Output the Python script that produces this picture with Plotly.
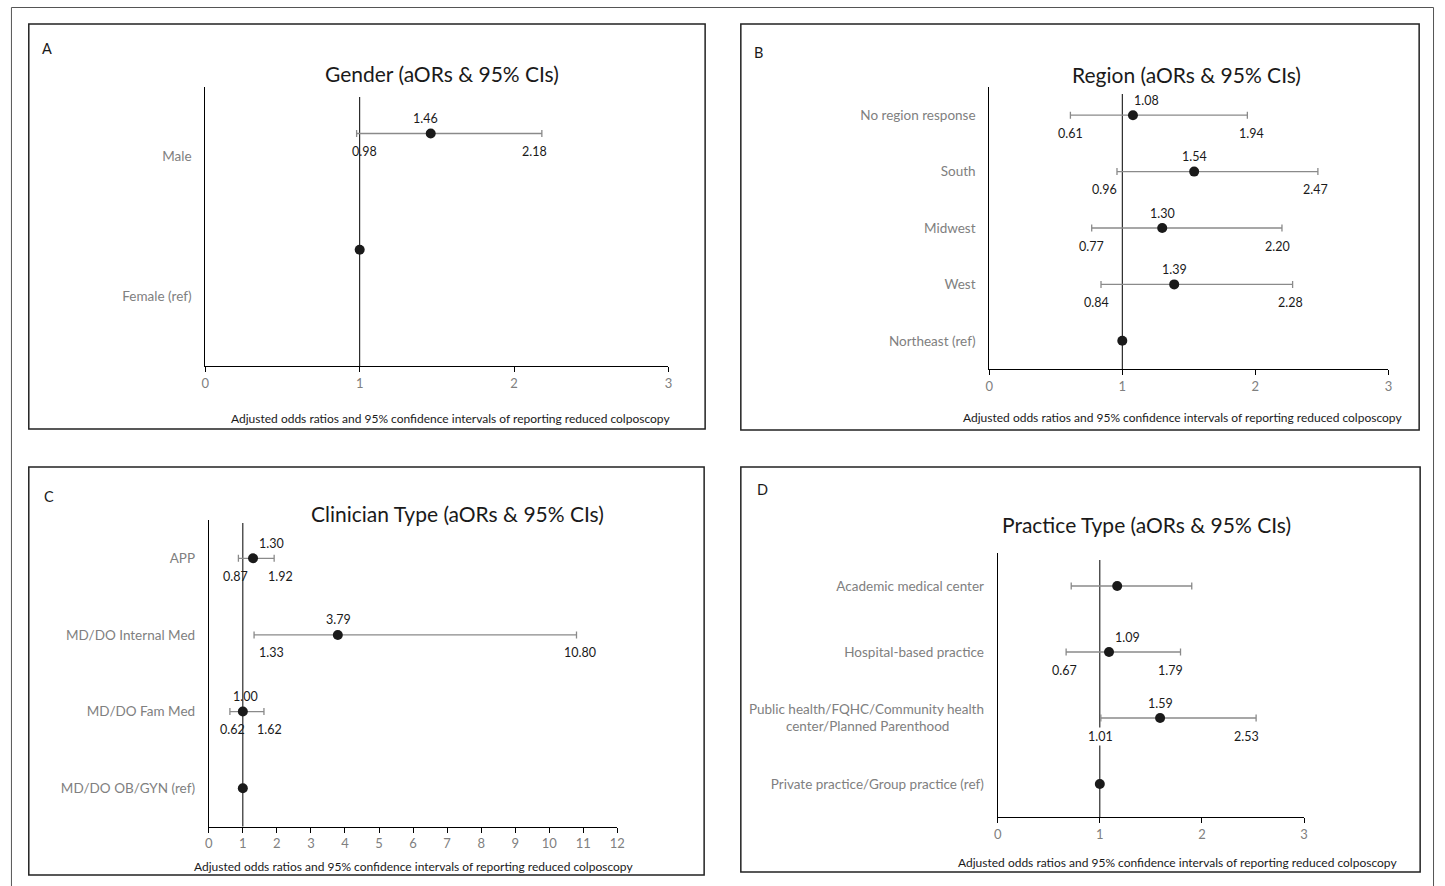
import plotly.graph_objects as go

# ---------------- data ----------------
gender_labels = ["Male", "Female (ref)"]
gender_aor = [1.46, 1.00]
gender_lo = [0.98, None]
gender_hi = [2.18, None]
gender_show = [True, False]

region_labels = ["No region response", "South", "Midwest", "West", "Northeast (ref)"]
region_aor = [1.08, 1.54, 1.30, 1.39, 1.00]
region_lo = [0.61, 0.96, 0.77, 0.84, None]
region_hi = [1.94, 2.47, 2.20, 2.28, None]
region_show = [True, True, True, True, False]

clin_labels = ["APP", "MD/DO Internal Med", "MD/DO Fam Med", "MD/DO OB/GYN (ref)"]
clin_aor = [1.30, 3.79, 1.00, 1.00]
clin_lo = [0.87, 1.33, 0.62, None]
clin_hi = [1.92, 10.80, 1.62, None]
clin_show = [True, True, True, False]

prac_labels = ["Academic medical center", "Hospital-based practice",
               "Public health/FQHC/Community health<br>center/Planned Parenthood",
               "Private practice/Group practice (ref)"]
prac_aor = [1.17, 1.09, 1.59, 1.00]
prac_lo = [0.72, 0.67, 1.01, None]
prac_hi = [1.90, 1.79, 2.53, None]
prac_show = [False, True, True, False]

x_ticks_small = [0, 1, 2, 3]
x_ticks_large = list(range(0, 13))
x_title_text = "Adjusted odds ratios and 95% confidence intervals of reporting reduced colposcopy"

# ---------------- layout helpers ----------------
OX, OY = 0, 0
W, H = 1445, 886
FONT = "Lato, 'Liberation Sans', sans-serif"
GRAY = "#808080"
BAR = "#8a8a8a"
INK = "#1a1a1a"


def fx(px):
    return (px - OX) / W


def fy(py):
    return 1 - (py - OY) / H


def center_lines(text):
    """Pad shorter lines of a multi-line tick label so they look centred."""
    lines = text.split("<br>")
    if len(lines) < 2:
        return text
    longest = max(len(s) for s in lines)
    out = []
    for s in lines:
        pad = int(round((longest - len(s)) * 0.95))
        out.append(s + "&nbsp;" * pad)
    return "<br>".join(out)


# per-label horizontal nudges in px: (point label, lower label, upper label) per row
panels = [
    dict(letter="A", title="Gender (aORs & 95% CIs)", labels=gender_labels, aor=gender_aor,
         lo=gender_lo, hi=gender_hi, show=gender_show, ticks=x_ticks_small, ymax=2.4, base=1.0,
         box=(25, 24, 707, 429), plot=(203, 87, 670, 366), tpos=(442, 73), lpos=(43, 49),
         apos=(450, 418), gap=10, bg=False,
         nudge=[(-5, 8, -7), (0, 0, 0)]),
    dict(letter="B", title="Region (aORs & 95% CIs)", labels=region_labels, aor=region_aor,
         lo=region_lo, hi=region_hi, show=region_show, ticks=x_ticks_small, ymax=None, base=0.5,
         box=(743, 24, 1427, 430), plot=(993.5, 87, 1396, 369), tpos=(1192, 75), lpos=(761, 52),
         apos=(1188, 417), gap=7, bg=False,
         nudge=[(14, 0, 4), (0, -12, -2), (0, 0, -4), (0, -5, -2), (0, 0, 0)]),
    dict(letter="C", title="Clinician Type (aORs & 95% CIs)", labels=clin_labels, aor=clin_aor,
         lo=clin_lo, hi=clin_hi, show=clin_show, ticks=x_ticks_large, ymax=None, base=0.5,
         box=(25, 467, 706, 875), plot=(206.5, 520, 618.5, 826.5), tpos=(457, 513), lpos=(45, 496),
         apos=(413, 866), gap=3, bg=False,
         nudge=[(18, -3, 6), (1, 17, 3), (3, 3, 6), (0, 0, 0)]),
    dict(letter="D", title="Practice Type (aORs & 95% CIs)", labels=prac_labels, aor=prac_aor,
         lo=prac_lo, hi=prac_hi, show=prac_show, ticks=x_ticks_small, ymax=None, base=0.5,
         box=(743, 467, 1428, 872), plot=(1002, 553, 1311, 817), tpos=(1152, 524), lpos=(765, 489),
         apos=(1183, 862), gap=7, bg=True,
         nudge=[(0, 0, 0), (18, -2, -10), (0, 0, -10), (0, 0, 0)]),
]

fig = go.Figure()
shapes = []
annotations = []
layout_axes = {}

for k, p in enumerate(panels, start=1):
    xa = "x" if k == 1 else f"x{k}"
    ya = "y" if k == 1 else f"y{k}"
    n = len(p["labels"])
    ymax = p["ymax"] if p["ymax"] is not None else n
    # bottom-up positions (first category on top)
    pos = [n - 1 - i + p["base"] for i in range(n)]
    label_pos = [(n - 1 - i + 0.5) * ymax / n for i in range(n)]

    err_plus = [(h - a) if h is not None else None for a, h in zip(p["aor"], p["hi"])]
    err_minus = [(a - l) if l is not None else None for a, l in zip(p["aor"], p["lo"])]

    fig.add_trace(go.Scatter(
        x=p["aor"], y=pos, mode="markers", xaxis=xa, yaxis=ya, showlegend=False,
        marker=dict(color=INK, size=10),
        error_x=dict(type="data", symmetric=False, array=err_plus, arrayminus=err_minus,
                     color=BAR, thickness=1.3, width=3.5),
        hoverinfo="x+y",
    ))

    x0, y0, x1, y1 = p["plot"]
    xmax = p["ticks"][-1]
    layout_axes["xaxis" if k == 1 else f"xaxis{k}"] = dict(
        domain=[fx(x0), fx(x1)], range=[0, xmax], tickvals=p["ticks"], anchor=ya,
        showline=True, linecolor="black", linewidth=1, ticks="outside", ticklen=5,
        tickcolor="black", tickwidth=1, showgrid=False, zeroline=False,
        tickfont=dict(family=FONT, size=13, color=GRAY), fixedrange=True,
    )
    layout_axes["yaxis" if k == 1 else f"yaxis{k}"] = dict(
        domain=[fy(y1), fy(y0)], range=[0, ymax], tickvals=label_pos,
        ticktext=[center_lines(t) for t in p["labels"]],
        anchor=xa, showline=True, linecolor="black", linewidth=1, ticks="",
        showgrid=False, zeroline=False, ticklabelstandoff=10,
        tickfont=dict(family=FONT, size=13.5, color=GRAY), fixedrange=True,
    )

    # reference line at OR = 1
    axis_h = y1 - y0
    shapes.append(dict(type="line", xref=xa, yref=f"{ya} domain", x0=1, x1=1,
                       y0=0, y1=1 - p["gap"] / axis_h, line=dict(color="black", width=1),
                       layer="below"))

    # panel box
    bx0, by0, bx1, by1 = p["box"]
    shapes.append(dict(type="rect", xref="paper", yref="paper", x0=fx(bx0), x1=fx(bx1),
                       y0=fy(by1), y1=fy(by0), line=dict(color="#222222", width=1.5)))

    # value labels
    for a, l, h, yv, s, nd in zip(p["aor"], p["lo"], p["hi"], pos, p["show"], p["nudge"]):
        if not s:
            continue
        lab = dict(xref=xa, yref=ya, showarrow=False, xanchor="center", yanchor="middle",
                   font=dict(family=FONT, size=12.5, color=INK))
        annotations.append(dict(lab, x=a, y=yv, text=f"{a:.2f}", yshift=15, xshift=nd[0]))
        if l is not None:
            d = dict(lab, x=l, y=yv, text=f"{l:.2f}", yshift=-18, xshift=nd[1])
            if p["bg"]:
                d["bgcolor"] = "white"
            annotations.append(d)
        if h is not None:
            annotations.append(dict(lab, x=h, y=yv, text=f"{h:.2f}", yshift=-18, xshift=nd[2]))

    # title, letter, x-axis caption
    annotations.append(dict(xref="paper", yref="paper", x=fx(p["tpos"][0]), y=fy(p["tpos"][1]),
                            text=p["title"], showarrow=False, xanchor="center", yanchor="middle",
                            font=dict(family=FONT, size=21, color=INK)))
    annotations.append(dict(xref="paper", yref="paper", x=fx(p["lpos"][0]), y=fy(p["lpos"][1]),
                            text=p["letter"], showarrow=False, xanchor="center", yanchor="middle",
                            font=dict(family=FONT, size=14.5, color=INK)))
    annotations.append(dict(xref="paper", yref="paper", x=fx(p["apos"][0]), y=fy(p["apos"][1]),
                            text=x_title_text, showarrow=False, xanchor="center", yanchor="middle",
                            font=dict(family=FONT, size=12, color=INK)))

# outer frame (top, left, right edges)
for (a0, b0, a1, b1) in [(7.5, 7.5, 1441.5, 7.5), (7.5, 7.5, 7.5, 890), (1441.5, 7.5, 1441.5, 890)]:
    shapes.append(dict(type="line", xref="paper", yref="paper", x0=fx(a0), x1=fx(a1),
                       y0=fy(b0), y1=fy(b1), line=dict(color="#555555", width=1)))

fig.update_layout(
    width=W, height=H, autosize=False,
    margin=dict(l=0, r=0, t=0, b=0, pad=0),
    paper_bgcolor="white", plot_bgcolor="white",
    font=dict(family=FONT, color=INK),
    shapes=shapes, annotations=annotations, showlegend=False,
    **layout_axes,
)

# remove the default page margin so the 1445x886 figure fills the window exactly
fig.write_html(
    "out.html",
    config={"displayModeBar": False},
    post_script="document.body.style.margin='0';"
                "document.documentElement.style.overflow='hidden';"
                "document.body.style.overflow='hidden';",
)
